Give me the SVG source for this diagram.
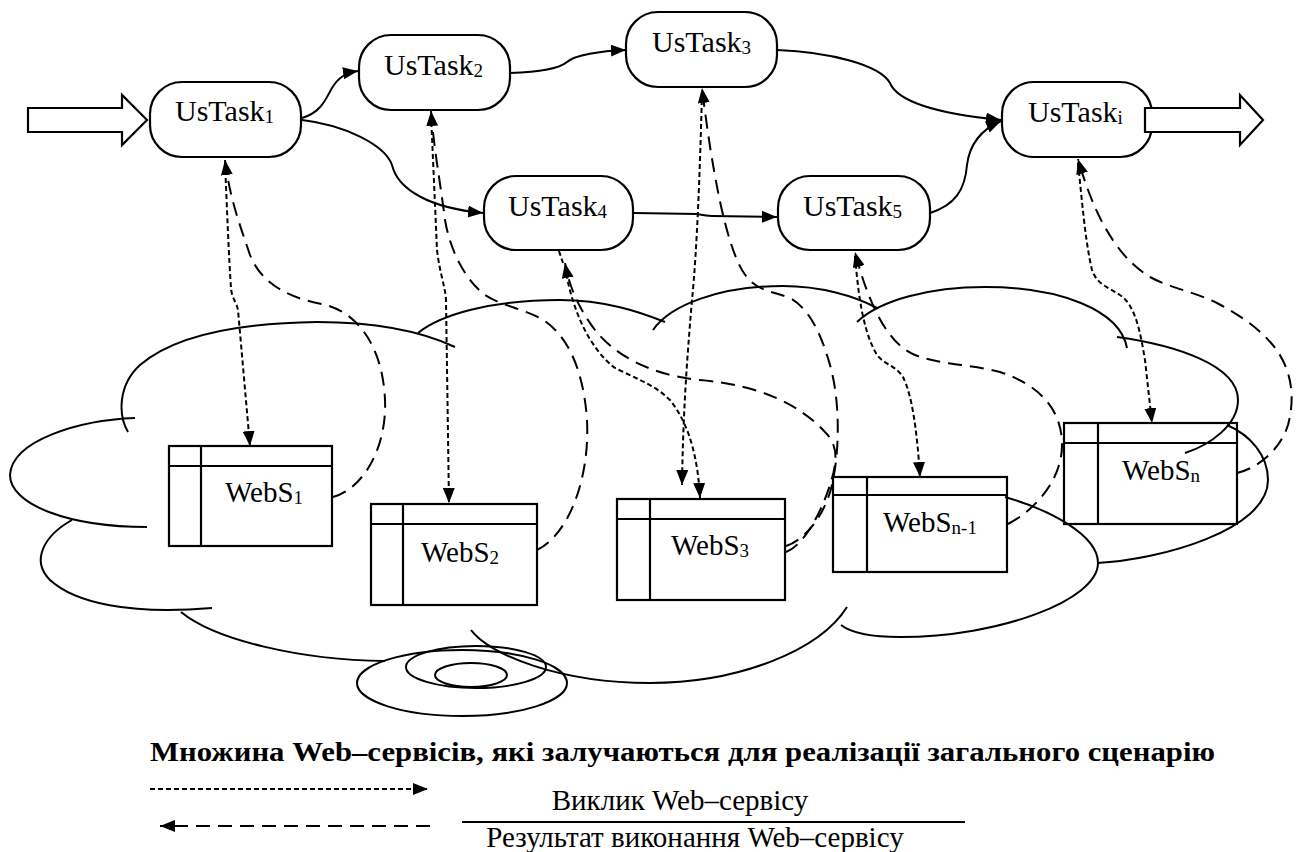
<svg xmlns="http://www.w3.org/2000/svg" width="1301" height="852" viewBox="0 0 1301 852">
<style>
text{font-family:"Liberation Serif","Times New Roman",serif;fill:#000}
.lbl{font-size:29px}
.tl{font-size:30px}
.sub{font-size:19px}
.leg{font-size:29px}
.task{fill:#fff;stroke:#000;stroke-width:2.2}
.ws{fill:none;stroke:#000;stroke-width:2.2}
.cloud{fill:none;stroke:#000;stroke-width:2}
.flow{fill:none;stroke:#000;stroke-width:2;marker-end:url(#ah)}
.call{fill:none;stroke:#000;stroke-width:2;stroke-dasharray:5 3}
.res{fill:none;stroke:#000;stroke-width:2;stroke-dasharray:14 8}
.big{fill:#fff;stroke:#000;stroke-width:2.2}
</style>
<defs>
<marker id="ah" markerWidth="15" markerHeight="12" refX="15" refY="6" orient="auto" markerUnits="userSpaceOnUse"><path d="M0,0 L15,6 L0,12 z" fill="#000"/></marker>
</defs>
<rect width="1301" height="852" fill="#fff"/>

<g id="cloud">
<path class="cloud" d="M128,432 C118,415 118,385 140,365 C175,335 240,323 317,322 C380,322 425,333 455,347"/>
<path class="cloud" d="M135,418 C80,420 12,440 10,475 C10,505 70,527 147,527"/>
<path class="cloud" d="M72,520 C45,535 30,560 50,580 C75,603 130,615 212,608"/>
<path class="cloud" d="M181,612 C215,640 300,660 385,661"/>
<ellipse class="cloud" cx="462" cy="683" rx="105" ry="33"/>
<ellipse class="cloud" cx="476" cy="667" rx="70" ry="21"/>
<ellipse class="cloud" cx="471" cy="675" rx="36" ry="12"/>
<path class="cloud" d="M471,630 C490,655 560,683 650,683 C740,683 820,650 847,607"/>
<path class="cloud" d="M1005,497 C1050,510 1098,535 1098,563 C1098,600 1000,637 900,637 C870,637 850,632 841,625"/>
<path class="cloud" d="M1097,563 C1160,560 1268,530 1268,480 C1268,455 1250,435 1227,425"/>
<path class="cloud" d="M1117,337 C1175,345 1238,365 1238,400 C1238,425 1210,445 1185,453"/>
<path class="cloud" d="M857,322 C880,300 930,287 985,287 C1060,287 1120,310 1127,348"/>
<path class="cloud" d="M653,330 C670,305 720,286 783,286 C820,286 855,296 877,308"/>
<path class="cloud" d="M418,333 C440,315 490,300 560,300 C605,300 640,312 665,322"/>
</g>

<g id="connectors">
<path class="flow" d="M302,118 C322,112 326,98 332,88 C338,78 345,73 358,71"/>
<path class="flow" d="M302,120 C345,125 385,145 392,165 C398,190 430,208 483,213"/>
<path class="flow" d="M510,73 C540,72 560,68 567,62 C575,55 600,51 626,50"/>
<path class="flow" d="M777,50 C830,52 880,65 890,83 C897,100 930,113 1001,120"/>
<path class="flow" d="M634,213 L697,214 C702,215 705,216 712,216 L777,217"/>
<path class="flow" d="M930,213 C955,205 965,190 967,165 C970,140 985,128 1001,121"/>

<path class="call" d="M225,162 C227,210 229,260 231,288 C232,300 236,300 238,310 L250,446" marker-end="url(#ah)"/>
<path class="res" d="M333,497 C365,488 387,445 385,400 C383,350 360,312 322,304 C290,298 262,285 250,255 C240,225 230,200 225,160" marker-end="url(#ah)"/>

<path class="call" d="M431,114 L437,250 C440,275 445,285 446,300 L449,503" marker-end="url(#ah)"/>
<path class="res" d="M537,550 C568,535 590,480 587,420 C584,375 570,335 540,318 C520,308 500,305 485,295 C465,280 450,250 445,220 C440,180 434,150 431,111" marker-end="url(#ah)"/>

<path class="call" d="M702,92 C700,170 697,250 692,300 C686,370 683,420 682,485" marker-end="url(#ah)"/>
<path class="res" d="M786,546 C805,540 825,515 832,485 C840,450 840,400 830,365 C820,330 808,308 790,298 C770,290 755,292 742,270 C725,240 712,170 702,88" marker-end="url(#ah)"/>

<path class="call" d="M559,251 L563,263"/>
<path class="call" d="M565,266 C570,300 585,345 615,368 C635,378 655,385 670,400 C690,425 698,460 700,498" marker-end="url(#ah)"/>
<path class="res" d="M786,552 C805,545 822,510 830,485 C838,460 838,445 825,432 C800,405 760,385 700,380 C650,375 615,355 595,330 C580,310 570,290 565,263" marker-end="url(#ah)"/>

<path class="call" d="M855,256 C858,290 862,330 877,355 C885,365 895,365 903,377 C912,395 917,430 920,477" marker-end="url(#ah)"/>
<path class="res" d="M1008,524 C1035,510 1062,480 1062,445 C1062,410 1040,385 1000,372 C970,364 940,365 915,355 C890,345 870,310 855,252" marker-end="url(#ah)"/>

<path class="call" d="M1078,163 C1082,200 1085,240 1092,270 C1097,285 1110,288 1120,295 C1135,305 1140,330 1145,360 L1152,423" marker-end="url(#ah)"/>
<path class="res" d="M1237,473 C1258,468 1280,450 1288,425 C1296,395 1290,370 1278,352 C1265,333 1245,318 1217,303 C1195,292 1170,288 1150,277 C1125,262 1098,230 1078,159" marker-end="url(#ah)"/>
</g>

<g id="UsTask1"><rect class="task" x="150" y="82" width="151" height="75" rx="32" ry="32"/><text class="tl" x="175" y="121">UsTask<tspan class="sub" dy="2">1</tspan></text></g>
<g id="UsTask2"><rect class="task" x="359" y="35" width="151" height="75" rx="32" ry="32"/><text class="tl" x="384" y="75">UsTask<tspan class="sub" dy="2">2</tspan></text></g>
<g id="UsTask3"><rect class="task" x="626" y="12" width="151" height="75" rx="32" ry="32"/><text class="tl" x="652" y="52">UsTask<tspan class="sub" dy="2">3</tspan></text></g>
<g id="UsTask4"><rect class="task" x="484" y="176" width="149" height="74" rx="32" ry="32"/><text class="tl" x="508" y="216">UsTask<tspan class="sub" dy="2">4</tspan></text></g>
<g id="UsTask5"><rect class="task" x="778" y="176" width="152" height="74" rx="32" ry="32"/><text class="tl" x="803" y="216">UsTask<tspan class="sub" dy="2">5</tspan></text></g>
<g id="UsTaski"><rect class="task" x="1002" y="82" width="150" height="75" rx="32" ry="32"/><text class="tl" x="1028" y="122">UsTask<tspan class="sub" dy="2">i</tspan></text></g>

<g id="input-arrow"><polygon class="big" points="28,108 122,108 122,95 147,120 122,145 122,132 28,132"/></g>
<g id="output-arrow"><polygon class="big" points="1145,108 1240,108 1240,95 1263,120 1240,145 1240,132 1145,132"/></g>

<g id="WebS1"><rect class="ws" x="169" y="446" width="163" height="100"/><line class="ws" x1="169" y1="466" x2="332" y2="466"/><line class="ws" x1="201" y1="446" x2="201" y2="546"/><text class="lbl" x="225" y="502">WebS<tspan class="sub" dy="2">1</tspan></text></g>
<g id="WebS2"><rect class="ws" x="371" y="504" width="166" height="101"/><line class="ws" x1="371" y1="524" x2="537" y2="524"/><line class="ws" x1="403" y1="504" x2="403" y2="605"/><text class="lbl" x="421" y="562">WebS<tspan class="sub" dy="2">2</tspan></text></g>
<g id="WebS3"><rect class="ws" x="617" y="499" width="168" height="101"/><line class="ws" x1="617" y1="519" x2="785" y2="519"/><line class="ws" x1="650" y1="499" x2="650" y2="600"/><text class="lbl" x="671" y="555">WebS<tspan class="sub" dy="2">3</tspan></text></g>
<g id="WebSn-1"><rect class="ws" x="833" y="477" width="174" height="95"/><line class="ws" x1="833" y1="495" x2="1007" y2="495"/><line class="ws" x1="867" y1="477" x2="867" y2="572"/><text class="lbl" x="883" y="532">WebS<tspan class="sub" dy="2">n-1</tspan></text></g>
<g id="WebSn"><rect class="ws" x="1064" y="423" width="173" height="101"/><line class="ws" x1="1064" y1="443" x2="1237" y2="443"/><line class="ws" x1="1098" y1="423" x2="1098" y2="524"/><text class="lbl" x="1122" y="480">WebS<tspan class="sub" dy="2">n</tspan></text></g>

<g id="legend">
<text x="150" y="761" font-size="27" font-weight="bold" textLength="1065" lengthAdjust="spacingAndGlyphs">Множина Web–сервісів, які залучаються для реалізації загального сценарію</text>
<path class="call" d="M150,789 L428,789" marker-end="url(#ah)"/>
<path class="res" d="M430,826 L160,826" marker-end="url(#ah)"/>
<text class="leg" x="680" y="810" text-anchor="middle" font-size="30">Виклик Web–сервісу</text>
<line x1="462" y1="822" x2="965" y2="822" stroke="#000" stroke-width="2"/>
<text class="leg" x="695" y="847" text-anchor="middle">Результат виконання Web–сервісу</text>
</g>
</svg>
